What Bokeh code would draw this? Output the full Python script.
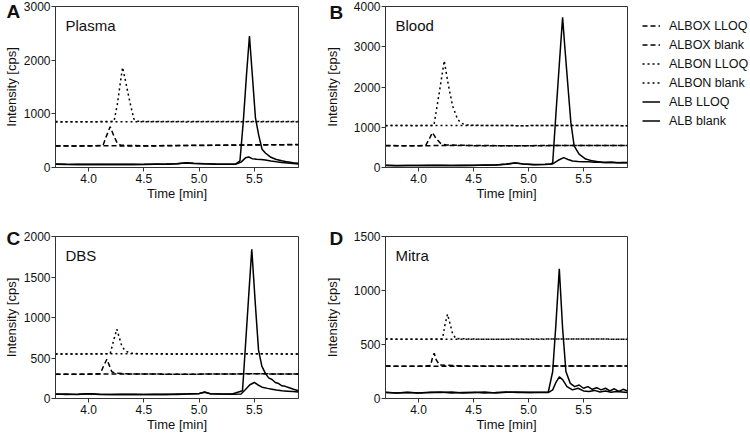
from bokeh.plotting import figure
from bokeh.layouts import column, row
from bokeh.models import Range1d, FixedTicker, Label, Legend, LegendItem
from bokeh.embed import file_html
from bokeh.resources import INLINE

# ---------------- data (time in min, intensity in cps) ----------------
X_TICKS = [4.0, 4.5, 5.0, 5.5]
X_TICK_LABELS = ["4.0", "4.5", "5.0", "5.5"]
X_START, X_END = 3.7, 5.9

# Panel A - Plasma
A_NAME = "Plasma"
A_Y_TICKS = [0, 1000, 2000, 3000]
A_ALBOX_BLANK_T = [3.70, 4.10, 4.50, 4.90, 5.30, 5.50, 5.90]
A_ALBOX_BLANK = [400, 405, 400, 410, 415, 420, 425]
A_ALBOX_LLOQ_T = [3.70, 4.00, 4.13, 4.16, 4.195, 4.23, 4.26, 4.29, 4.50, 4.90, 5.30, 5.50, 5.90]
A_ALBOX_LLOQ = [405, 400, 410, 580, 760, 580, 450, 415, 405, 412, 418, 422, 428]
A_ALBON_BLANK_T = [3.70, 4.30, 4.90, 5.50, 5.90]
A_ALBON_BLANK = [850, 852, 850, 853, 850]
A_ALBON_LLOQ_T = [3.70, 4.00, 4.23, 4.26, 4.285, 4.307, 4.33, 4.355, 4.38, 4.41, 4.45, 4.90, 5.50, 5.90]
A_ALBON_LLOQ = [855, 852, 860, 1180, 1550, 1865, 1650, 1400, 1160, 900, 860, 855, 858, 855]
A_ALB_BLANK_T = [3.70, 3.80, 3.90, 4.00, 4.10, 4.20, 4.30, 4.40, 4.50, 4.60, 4.70, 4.80, 4.88, 4.95, 5.05, 5.15, 5.25,
                 5.33, 5.38, 5.42, 5.45, 5.48, 5.52, 5.56, 5.60, 5.65, 5.70, 5.75, 5.80, 5.85, 5.90]
A_ALB_BLANK = [60, 55, 62, 58, 60, 56, 62, 58, 60, 63, 60, 70, 85, 75, 68, 62, 60,
               62, 100, 180, 195, 165, 155, 150, 140, 120, 105, 95, 85, 75, 65]
A_ALB_LLOQ_T = [3.70, 3.80, 3.90, 4.00, 4.10, 4.20, 4.30, 4.40, 4.50, 4.60, 4.70, 4.80, 4.88, 4.95, 5.05, 5.15, 5.25,
                5.33, 5.37, 5.40, 5.43, 5.456, 5.48, 5.51, 5.54, 5.57, 5.60, 5.65, 5.70, 5.75, 5.80, 5.85, 5.90]
A_ALB_LLOQ = [65, 60, 58, 62, 57, 60, 58, 62, 57, 60, 65, 72, 90, 78, 70, 64, 60,
              65, 125, 850, 1750, 2450, 1780, 930, 600, 340, 270, 190, 150, 125, 105, 90, 80]

# Panel B - Blood
B_NAME = "Blood"
B_Y_TICKS = [0, 1000, 2000, 3000, 4000]
B_ALBOX_BLANK_T = [3.70, 4.30, 4.90, 5.50, 5.90]
B_ALBOX_BLANK = [540, 545, 540, 548, 545]
B_ALBOX_LLOQ_T = [3.70, 4.00, 4.066, 4.10, 4.127, 4.16, 4.20, 4.25, 4.50, 4.90, 5.50, 5.90]
B_ALBOX_LLOQ = [545, 540, 550, 720, 870, 720, 600, 560, 545, 542, 548, 545]
B_ALBON_BLANK_T = [3.70, 4.30, 4.90, 5.50, 5.90]
B_ALBON_BLANK = [1040, 1045, 1040, 1042, 1040]
B_ALBON_LLOQ_T = [3.70, 4.00, 4.14, 4.19, 4.234, 4.27, 4.31, 4.355, 4.385, 4.43, 4.60, 4.90, 5.50, 5.90]
B_ALBON_LLOQ = [1042, 1040, 1045, 1880, 2650, 2070, 1530, 1200, 1110, 1055, 1045, 1040, 1042, 1040]
B_ALB_BLANK_T = [3.70, 3.80, 3.90, 4.00, 4.10, 4.20, 4.30, 4.40, 4.50, 4.60, 4.70, 4.80, 4.88, 4.95, 5.05, 5.15,
                 5.22, 5.27, 5.32, 5.36, 5.40, 5.45, 5.50, 5.55, 5.60, 5.65, 5.70, 5.75, 5.80, 5.85, 5.90]
B_ALB_BLANK = [50, 45, 52, 48, 55, 50, 52, 55, 50, 60, 62, 80, 110, 85, 70, 75,
               90, 180, 245, 200, 160, 150, 145, 140, 130, 135, 125, 130, 120, 125, 118]
B_ALB_LLOQ_T = [3.70, 3.80, 3.90, 4.00, 4.10, 4.20, 4.30, 4.40, 4.50, 4.60, 4.70, 4.80, 4.88, 4.95, 5.05, 5.15,
                5.20, 5.22, 5.25, 5.28, 5.31, 5.33, 5.36, 5.385, 5.415, 5.46, 5.52, 5.58, 5.67, 5.75, 5.83, 5.90]
B_ALB_LLOQ = [55, 50, 48, 52, 50, 55, 50, 52, 55, 58, 65, 85, 115, 90, 75, 80,
              90, 110, 1360, 2560, 3730, 3000, 1970, 1120, 540, 330, 210, 165, 125, 130, 120, 125]

# Panel C - DBS
C_NAME = "DBS"
C_Y_TICKS = [0, 500, 1000, 1500, 2000]
C_ALBOX_BLANK_T = [3.70, 4.30, 4.90, 5.50, 5.90]
C_ALBOX_BLANK = [300, 302, 300, 305, 302]
C_ALBOX_LLOQ_T = [3.70, 4.00, 4.105, 4.135, 4.165, 4.19, 4.21, 4.24, 4.40, 4.90, 5.50, 5.90]
C_ALBOX_LLOQ = [300, 298, 305, 400, 485, 400, 330, 312, 302, 300, 305, 302]
C_ALBON_BLANK_T = [3.70, 4.30, 4.90, 5.50, 5.90]
C_ALBON_BLANK = [550, 552, 550, 552, 550]
C_ALBON_LLOQ_T = [3.70, 4.00, 4.195, 4.225, 4.255, 4.28, 4.30, 4.33, 4.376, 4.45, 4.90, 5.50, 5.90]
C_ALBON_LLOQ = [550, 548, 552, 710, 856, 740, 650, 590, 560, 552, 550, 552, 550]
C_ALB_BLANK_T = [3.70, 3.80, 3.90, 4.00, 4.10, 4.20, 4.30, 4.40, 4.50, 4.60, 4.70, 4.80, 4.90, 5.00, 5.05, 5.10,
                 5.20, 5.30, 5.38, 5.42, 5.46, 5.50, 5.53, 5.57, 5.62, 5.66, 5.70, 5.75, 5.80, 5.85, 5.90]
C_ALB_BLANK = [55, 50, 52, 58, 50, 48, 52, 50, 48, 52, 50, 55, 58, 62, 80, 60,
               55, 52, 55, 110, 170, 198, 170, 140, 125, 115, 105, 95, 90, 85, 80]
C_ALB_LLOQ_T = [3.70, 3.80, 3.90, 4.00, 4.10, 4.20, 4.30, 4.40, 4.50, 4.60, 4.70, 4.80, 4.90, 5.00, 5.05, 5.10,
                5.20, 5.30, 5.393, 5.42, 5.45, 5.477, 5.51, 5.538, 5.568, 5.60, 5.63, 5.66, 5.69, 5.72,
                5.75, 5.78, 5.81, 5.855, 5.90]
C_ALB_LLOQ = [52, 55, 50, 60, 52, 50, 48, 52, 50, 48, 52, 50, 55, 60, 78, 58,
              55, 55, 95, 655, 1285, 1843, 1150, 600, 400, 310, 255, 235, 198, 185,
              157, 150, 136, 115, 95]

# Panel D - Mitra
D_NAME = "Mitra"
D_Y_TICKS = [0, 500, 1000, 1500]
D_ALBOX_BLANK_T = [3.70, 4.30, 4.90, 5.50, 5.90]
D_ALBOX_BLANK = [300, 298, 300, 302, 300]
D_ALBOX_LLOQ_T = [3.70, 4.00, 4.11, 4.125, 4.143, 4.16, 4.19, 4.40, 4.90, 5.50, 5.90]
D_ALBOX_LLOQ = [300, 298, 305, 370, 420, 360, 310, 302, 300, 302, 300]
D_ALBON_BLANK_T = [3.70, 4.30, 4.90, 5.50, 5.90]
D_ALBON_BLANK = [550, 548, 550, 552, 548]
D_ALBON_LLOQ_T = [3.70, 4.00, 4.218, 4.24, 4.264, 4.29, 4.31, 4.34, 4.50, 4.90, 5.50, 5.90]
D_ALBON_LLOQ = [550, 548, 552, 680, 781, 680, 600, 555, 550, 548, 552, 548]
D_ALB_BLANK_T = [3.70, 3.80, 3.90, 4.00, 4.10, 4.20, 4.30, 4.40, 4.50, 4.60, 4.70, 4.80, 4.90, 5.00, 5.10,
                 5.18, 5.22, 5.25, 5.28, 5.31, 5.35, 5.40, 5.45, 5.50, 5.55, 5.60, 5.65, 5.70, 5.75, 5.80, 5.85, 5.90]
D_ALB_BLANK = [55, 50, 58, 52, 55, 60, 52, 55, 58, 52, 55, 60, 55, 58, 55,
               55, 80, 150, 200, 175, 110, 80, 95, 70, 65, 75, 60, 70, 58, 65, 60, 55]
D_ALB_LLOQ_T = [3.70, 3.80, 3.90, 4.00, 4.10, 4.20, 4.30, 4.40, 4.50, 4.60, 4.70, 4.80, 4.90, 5.00, 5.10,
                5.18, 5.22, 5.25, 5.28, 5.31, 5.34, 5.38, 5.42, 5.46, 5.50, 5.54, 5.58, 5.62, 5.66, 5.70,
                5.74, 5.78, 5.82, 5.86, 5.90]
D_ALB_LLOQ = [58, 52, 55, 50, 58, 55, 60, 52, 55, 60, 52, 58, 60, 55, 58,
              60, 250, 700, 1200, 650, 250, 140, 110, 125, 95, 110, 85, 100, 80, 95,
              70, 90, 65, 85, 70]

SERIES_LABELS = ["ALBOX LLOQ", "ALBOX blank", "ALBON LLOQ", "ALBON blank", "ALB LLOQ", "ALB blank"]

FONT = "Liberation Sans"
INK = "#111111"
AXIS = "#333333"
DASH = "5 3"
DOT = "2 3"


def panel(name, y_ticks, series, left, right, top, bottom, fw, fh, title_standoff):
    p = figure(output_backend="svg", toolbar_location=None,
               frame_width=fw, frame_height=fh,
               min_border_left=left, min_border_right=right,
               min_border_top=top, min_border_bottom=bottom,
               x_range=Range1d(X_START, X_END), y_range=Range1d(y_ticks[0], y_ticks[-1]))
    p.xgrid.visible = False
    p.ygrid.visible = False
    p.outline_line_color = AXIS
    p.outline_line_width = 1
    p.background_fill_color = "white"
    p.border_fill_color = "white"

    p.xaxis.ticker = FixedTicker(ticks=X_TICKS)
    p.xaxis.major_label_overrides = {t: s for t, s in zip(X_TICKS, X_TICK_LABELS)}
    p.yaxis.ticker = FixedTicker(ticks=y_ticks)
    p.yaxis.major_label_overrides = {t: str(t) for t in y_ticks}
    p.xaxis.axis_label = "Time [min]"
    p.yaxis.axis_label = "Intensity [cps]"
    for ax in (p.xaxis[0], p.yaxis[0]):
        ax.axis_line_color = AXIS
        ax.axis_line_width = 1
        ax.major_tick_line_color = AXIS
        ax.major_tick_in = 0
        ax.major_tick_out = 4
        ax.minor_tick_line_color = None
        ax.major_label_text_font = FONT
        ax.major_label_text_font_size = "12px"
        ax.major_label_text_color = INK
        ax.axis_label_text_font = FONT
        ax.axis_label_text_font_size = "13px"
        ax.axis_label_text_font_style = "normal"
        ax.axis_label_text_color = INK
    p.xaxis.major_label_standoff = 2
    p.xaxis.axis_label_standoff = 0
    p.yaxis.major_label_standoff = 1
    p.yaxis.axis_label_standoff = title_standoff

    styles = [DASH, DASH, DOT, DOT, "solid", "solid"]
    renderers = []
    for (t, y), dash in zip(series, styles):
        r = p.line(t, y, line_color="black", line_width=1.5, line_dash=dash)
        renderers.append(r)

    p.add_layout(Label(x=10, y=fh - 10, x_units="screen", y_units="screen", text=name,
                       text_baseline="top", text_align="left", text_font=FONT,
                       text_font_size="15px", text_color=INK))
    return p, renderers


def add_letter(p, letter, dx, dy, side):
    # placed in a side panel so that it is not clipped to the frame
    p.add_layout(Label(x=dx, y=dy, x_units="screen", y_units="screen", text=letter,
                       text_baseline="top", text_align="left", text_font=FONT,
                       text_font_size="19px", text_font_style="bold", text_color=INK), side)


pA, _ = panel(A_NAME, A_Y_TICKS,
              [(A_ALBOX_LLOQ_T, A_ALBOX_LLOQ), (A_ALBOX_BLANK_T, A_ALBOX_BLANK),
               (A_ALBON_LLOQ_T, A_ALBON_LLOQ), (A_ALBON_BLANK_T, A_ALBON_BLANK),
               (A_ALB_LLOQ_T, A_ALB_LLOQ), (A_ALB_BLANK_T, A_ALB_BLANK)],
              49, 23, 6, 40, 243, 161, 2)
pB, rB = panel(B_NAME, B_Y_TICKS,
               [(B_ALBOX_LLOQ_T, B_ALBOX_LLOQ), (B_ALBOX_BLANK_T, B_ALBOX_BLANK),
                (B_ALBON_LLOQ_T, B_ALBON_LLOQ), (B_ALBON_BLANK_T, B_ALBON_BLANK),
                (B_ALB_LLOQ_T, B_ALB_LLOQ), (B_ALB_BLANK_T, B_ALB_BLANK)],
               60, 125, 6, 40, 242, 161, 11)
pC, _ = panel(C_NAME, C_Y_TICKS,
              [(C_ALBOX_LLOQ_T, C_ALBOX_LLOQ), (C_ALBOX_BLANK_T, C_ALBOX_BLANK),
               (C_ALBON_LLOQ_T, C_ALBON_LLOQ), (C_ALBON_BLANK_T, C_ALBON_BLANK),
               (C_ALB_LLOQ_T, C_ALB_LLOQ), (C_ALB_BLANK_T, C_ALB_BLANK)],
              49, 23, 12, 38, 243, 162, 2)
pD, _ = panel(D_NAME, D_Y_TICKS,
              [(D_ALBOX_LLOQ_T, D_ALBOX_LLOQ), (D_ALBOX_BLANK_T, D_ALBOX_BLANK),
               (D_ALBON_LLOQ_T, D_ALBON_LLOQ), (D_ALBON_BLANK_T, D_ALBON_BLANK),
               (D_ALB_LLOQ_T, D_ALB_LLOQ), (D_ALB_BLANK_T, D_ALB_BLANK)],
              60, 125, 12, 38, 242, 162, 11)

add_letter(pA, "A", -292, 161 + 6, "right")
add_letter(pB, "B", -56, 223, "below")
add_letter(pC, "C", -292, 162 + 9, "right")
add_letter(pD, "D", -298, 162 + 9, "right")

legend = Legend(items=[LegendItem(label=lab, renderers=[r]) for lab, r in zip(SERIES_LABELS, rB)],
                location=(15, 39), margin=0, padding=0, spacing=4,
                glyph_width=18, glyph_height=15, label_height=15, label_standoff=9,
                label_text_font=FONT, label_text_font_size="12.5px", label_text_color=INK,
                border_line_color=None, background_fill_alpha=0)
pB.add_layout(legend, "right")

layout = column(row(pA, pB), row(pC, pD))
open("out.html", "w").write(file_html(layout, INLINE))
